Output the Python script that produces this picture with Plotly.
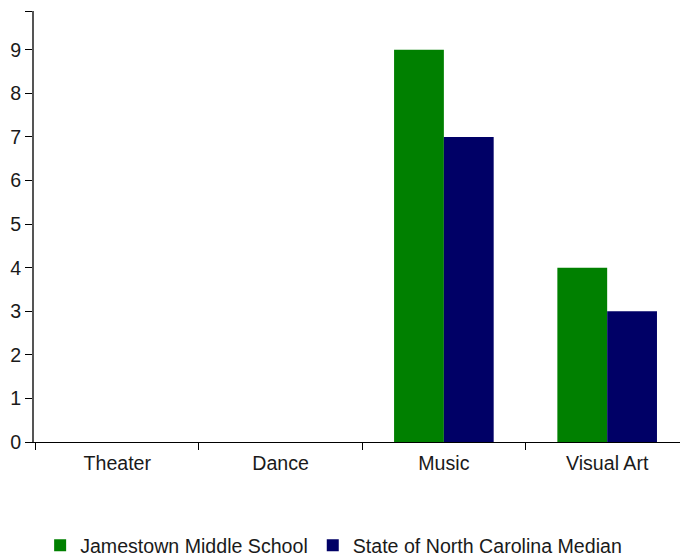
import plotly.graph_objects as go

categories = ["Theater", "Dance", "Music", "Visual Art"]
school_values = [0, 0, 9, 4]
state_values = [0, 0, 7, 3]
series_names = ["Jamestown Middle School", "State of North Carolina Median"]
y_ticks = list(range(0, 10))

fig = go.Figure()
fig.add_trace(go.Bar(x=categories, y=school_values, name=series_names[0],
                     marker=dict(color="#008000", line=dict(width=0))))
fig.add_trace(go.Bar(x=categories, y=state_values, name=series_names[1],
                     marker=dict(color="#000066", line=dict(width=0))))

font = dict(family="Liberation Sans, Arial, sans-serif", size=19.6, color="#1a1a1a")

fig.update_layout(
    width=680, height=559,
    margin=dict(l=34, r=0, t=11, b=117, autoexpand=False),
    paper_bgcolor="white", plot_bgcolor="white",
    barmode="group", bargap=0.39, bargroupgap=0,
    font=font,
    showlegend=True,
    legend=dict(orientation="h", x=0.0095, xanchor="left", y=-0.195, yanchor="top",
                font=font, itemclick=False),
    xaxis=dict(type="category", range=[-0.51, 3.446], showline=True, linecolor="#000000",
               linewidth=1, ticks="outside", tickson="boundaries", ticklen=7,
               tickcolor="#000000", showgrid=False, zeroline=False, tickfont=font,
               ticklabelstandoff=3, automargin=False),
    yaxis=dict(range=[0, 9.89], showline=True, linecolor="#555555", linewidth=2,
               ticks="outside", ticklen=7, tickcolor="#000000",
               tickvals=y_ticks + [9.89], ticktext=[str(v) for v in y_ticks] + [""],
               showgrid=False, zeroline=False, tickfont=font, automargin=False),
)

fig.write_html("out.html", config={"displayModeBar": False},
               post_script="document.body.style.margin='0';document.body.style.overflow='hidden';")
